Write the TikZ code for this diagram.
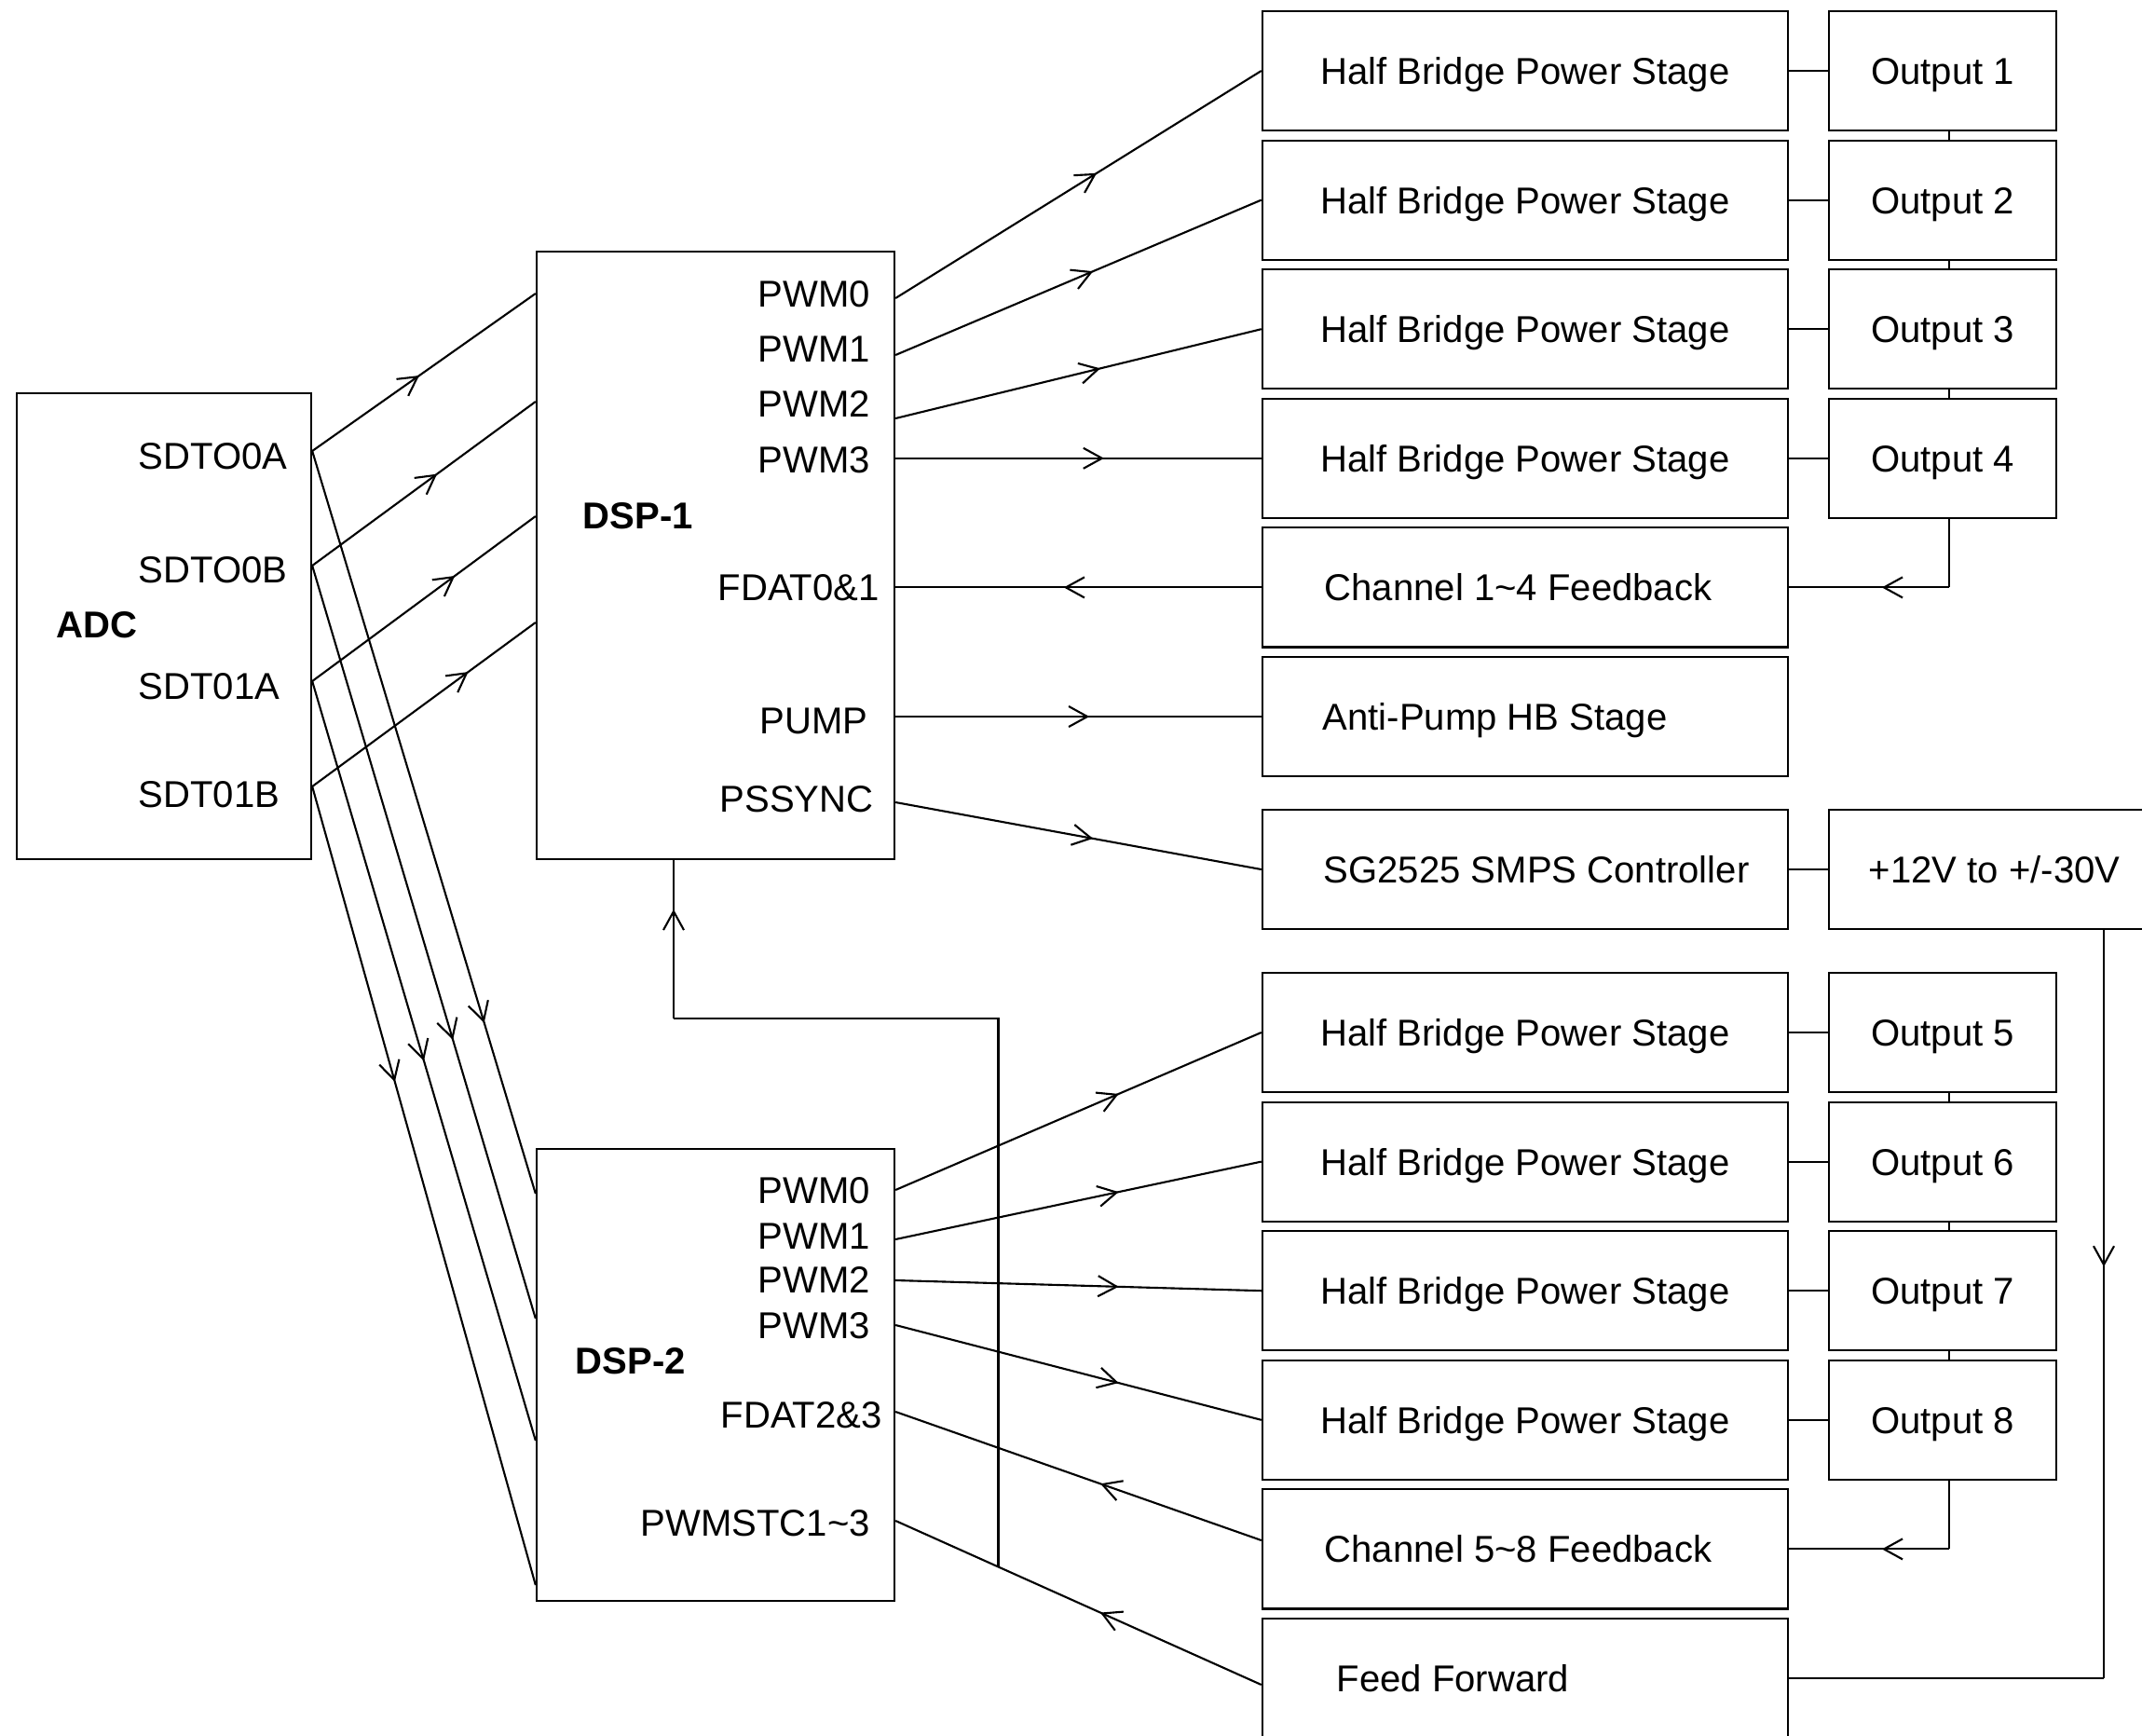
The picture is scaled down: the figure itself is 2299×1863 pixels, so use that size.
\documentclass[tikz,border=0pt]{standalone}
\usepackage{fontspec}
\setmainfont{Liberation Sans}
\usetikzlibrary{arrows.meta,decorations.markings}
\begin{document}
\begin{tikzpicture}[x=0.01cm, y=-0.01cm, font=\fontsize{11.4}{13.7}\selectfont,
  blk/.style={draw, line width=0.6pt, inner sep=0pt, text height=0.29cm, text depth=0pt},
  hbox/.style={blk, minimum width=5.64cm, minimum height=1.28cm},
  obox/.style={blk, minimum width=2.44cm, minimum height=1.28cm},
  lbl/.style={inner sep=0pt, text height=0.29cm, text depth=0pt, anchor=west},
  wire/.style={line width=0.6pt},
  midarr/.style={postaction={decorate}, decoration={markings, mark=at position #1 with {\arrow{Straight Barb[length=2mm,width=2.2mm]}}}}]
\useasboundingbox (0,0) rectangle (2299,1863);
\clip (0,0) rectangle (2299,1863);

% ADC
\node[blk, minimum width=3.16cm, minimum height=5cm] (adc) at (176,672) {};
\node[lbl] (tadc) at (60,670) {\textbf{ADC}};
\node[lbl] (tsa) at (148,489) {SDTO0A};
\node[lbl] (tsb) at (148,611) {SDTO0B};
\node[lbl] (tsc) at (148,736) {SDT01A};
\node[lbl] (tsd) at (148,852) {SDT01B};

% DSP-1
\node[blk, minimum width=3.84cm, minimum height=6.52cm] (dsp1) at (768,596) {};
\node[lbl] (t1d) at (625,553) {\textbf{DSP-1}};
\node[lbl] (t1p0) at (813,315) {PWM0};
\node[lbl] (t1p1) at (813,374) {PWM1};
\node[lbl] (t1p2) at (813,433) {PWM2};
\node[lbl] (t1p3) at (813,493) {PWM3};
\node[lbl] (t1fd) at (770,630) {FDAT0\&1};
\node[lbl] (t1pu) at (815,773) {PUMP};
\node[lbl] (t1ps) at (772,857) {PSSYNC};

% DSP-2
\node[blk, minimum width=3.84cm, minimum height=4.85cm] (dsp2) at (768,1475.5) {};
\node[lbl] (t2d) at (617,1460) {\textbf{DSP-2}};
\node[lbl] (t2p0) at (813,1277) {PWM0};
\node[lbl] (t2p1) at (813,1326) {PWM1};
\node[lbl] (t2p2) at (813,1373) {PWM2};
\node[lbl] (t2p3) at (813,1422) {PWM3};
\node[lbl] (t2fd) at (773,1518) {FDAT2\&3};
\node[lbl] (t2st) at (687,1634) {PWMSTC1\textasciitilde 3};

% right column
\foreach \i/\y in {1/76,2/214.6,3/353.2,4/491.8,5/1108,6/1246.6,7/1385.2,8/1523.8}{
  \node[hbox] (hb\i) at (1637,\y) {Half Bridge Power Stage};
  \node[obox] (out\i) at (2085,\y) {Output \i};
  \draw[wire] (hb\i.east) -- (out\i.west);
}
\foreach \a/\b in {1/2,2/3,3/4,5/6,6/7,7/8}
  \draw[wire] (out\a.south -| 2092,0) -- (out\b.north -| 2092,0);

\node[hbox] (ch1) at (1637,630.4) {};
\node[lbl] (tch1) at (1421,630.4) {Channel 1\textasciitilde 4 Feedback};
\node[hbox] (ap) at (1637,769) {};
\node[lbl] (tap) at (1419,769) {Anti-Pump HB Stage};
\node[hbox] (sg) at (1637,933) {};
\node[lbl] (tsg) at (1420,933) {SG2525 SMPS Controller};
\node[blk, minimum width=3.47cm, minimum height=1.28cm] (pwr) at (2136.5,933) {};
\node[lbl] (tpwr) at (2005,933) {+12V to +/-30V};
\node[hbox] (ch2) at (1637,1662.4) {};
\node[lbl] (tch2) at (1421,1662.4) {Channel 5\textasciitilde 8 Feedback};
\node[hbox] (ff) at (1637,1801) {};
\node[lbl] (tff) at (1434,1801) {Feed Forward};

% ports
\coordinate (aA) at (adc.east |- 0,484);
\coordinate (aB) at (adc.east |- 0,607);
\coordinate (aC) at (adc.east |- 0,731);
\coordinate (aD) at (adc.east |- 0,844);
\coordinate (d1a) at (dsp1.west |- 0,315);
\coordinate (d1b) at (dsp1.west |- 0,431);
\coordinate (d1c) at (dsp1.west |- 0,554);
\coordinate (d1d) at (dsp1.west |- 0,668);
\coordinate (d2a) at (dsp2.west |- 0,1281);
\coordinate (d2b) at (dsp2.west |- 0,1415);
\coordinate (d2c) at (dsp2.west |- 0,1546);
\coordinate (d2d) at (dsp2.west |- 0,1701);
\coordinate (p10) at (dsp1.east |- 0,320);
\coordinate (p11) at (dsp1.east |- 0,381);
\coordinate (p12) at (dsp1.east |- 0,449);
\coordinate (p13) at (dsp1.east |- hb4.west);
\coordinate (pfd) at (dsp1.east |- ch1.west);
\coordinate (ppu) at (dsp1.east |- ap.west);
\coordinate (pss) at (dsp1.east |- 0,861);
\coordinate (q0) at (dsp2.east |- 0,1277);
\coordinate (q1) at (dsp2.east |- 0,1330);
\coordinate (q2) at (dsp2.east |- 0,1374);
\coordinate (q3) at (dsp2.east |- 0,1422);
\coordinate (qfd) at (dsp2.east |- 0,1515);
\coordinate (qst) at (dsp2.east |- 0,1632);
\coordinate (ch2in) at (ch2.west |- 0,1653);
\coordinate (ffin) at (ff.west |- 0,1808);

% ADC to DSP-1
\draw[wire, midarr=0.48] (aA) -- (d1a);
\draw[wire, midarr=0.56] (aB) -- (d1b);
\draw[wire, midarr=0.64] (aC) -- (d1c);
\draw[wire, midarr=0.70] (aD) -- (d1d);
% ADC to DSP-2
\draw[wire, midarr=0.77] (aA) -- (d2a);
\draw[wire, midarr=0.63] (aB) -- (d2b);
\draw[wire, midarr=0.50] (aC) -- (d2c);
\draw[wire, midarr=0.37] (aD) -- (d2d);

% DSP-1 outputs
\draw[wire, midarr=0.55] (p10) -- (hb1.west);
\draw[wire, midarr=0.54] (p11) -- (hb2.west);
\draw[wire, midarr=0.56] (p12) -- (hb3.west);
\draw[wire, midarr=0.57] (p13) -- (hb4.west);
\draw[wire, midarr=0.54] (ch1.west) -- (pfd);
\draw[wire, midarr=0.53] (ppu) -- (ap.west);
\draw[wire, midarr=0.54] (pss) -- (sg.west);
\draw[wire] (sg.east) -- (pwr.west);

% DSP-2 outputs
\draw[wire, midarr=0.61] (q0) -- (hb5.west);
\draw[wire, midarr=0.61] (q1) -- (hb6.west);
\draw[wire, midarr=0.61] (q2) -- (hb7.west);
\draw[wire, midarr=0.61] (q3) -- (hb8.west);
\draw[wire, midarr=0.44] (ch2in) -- (qfd);
\draw[wire, midarr=0.44] (ffin) -- (qst);

% branch to DSP-1
\path (qst) -- (ffin) coordinate[pos=0.281] (jn);
\coordinate (c1) at (jn |- 0,1093);
\coordinate (c2) at (723,1093);
\coordinate (c3) at (dsp1.south -| c2);
\draw[wire] (jn) -- (c1) -- (c2);
\draw[wire, midarr=0.69] (c2) -- (c3);

% feedback from outputs
\coordinate (k1) at (ch1.east -| 2092,0);
\draw[wire] (out4.south -| k1) -- (k1);
\draw[wire, midarr=0.42] (k1) -- (ch1.east);
\coordinate (k2) at (ch2.east -| 2092,0);
\draw[wire] (out8.south -| k2) -- (k2);
\draw[wire, midarr=0.42] (k2) -- (ch2.east);

% supply to feed forward
\coordinate (k3) at (pwr.south -| 2258,0);
\coordinate (k4) at (ff.east -| 2258,0);
\draw[wire, midarr=0.45] (k3) -- (k4);
\draw[wire] (k4) -- (ff.east);
\end{tikzpicture}
\end{document}
